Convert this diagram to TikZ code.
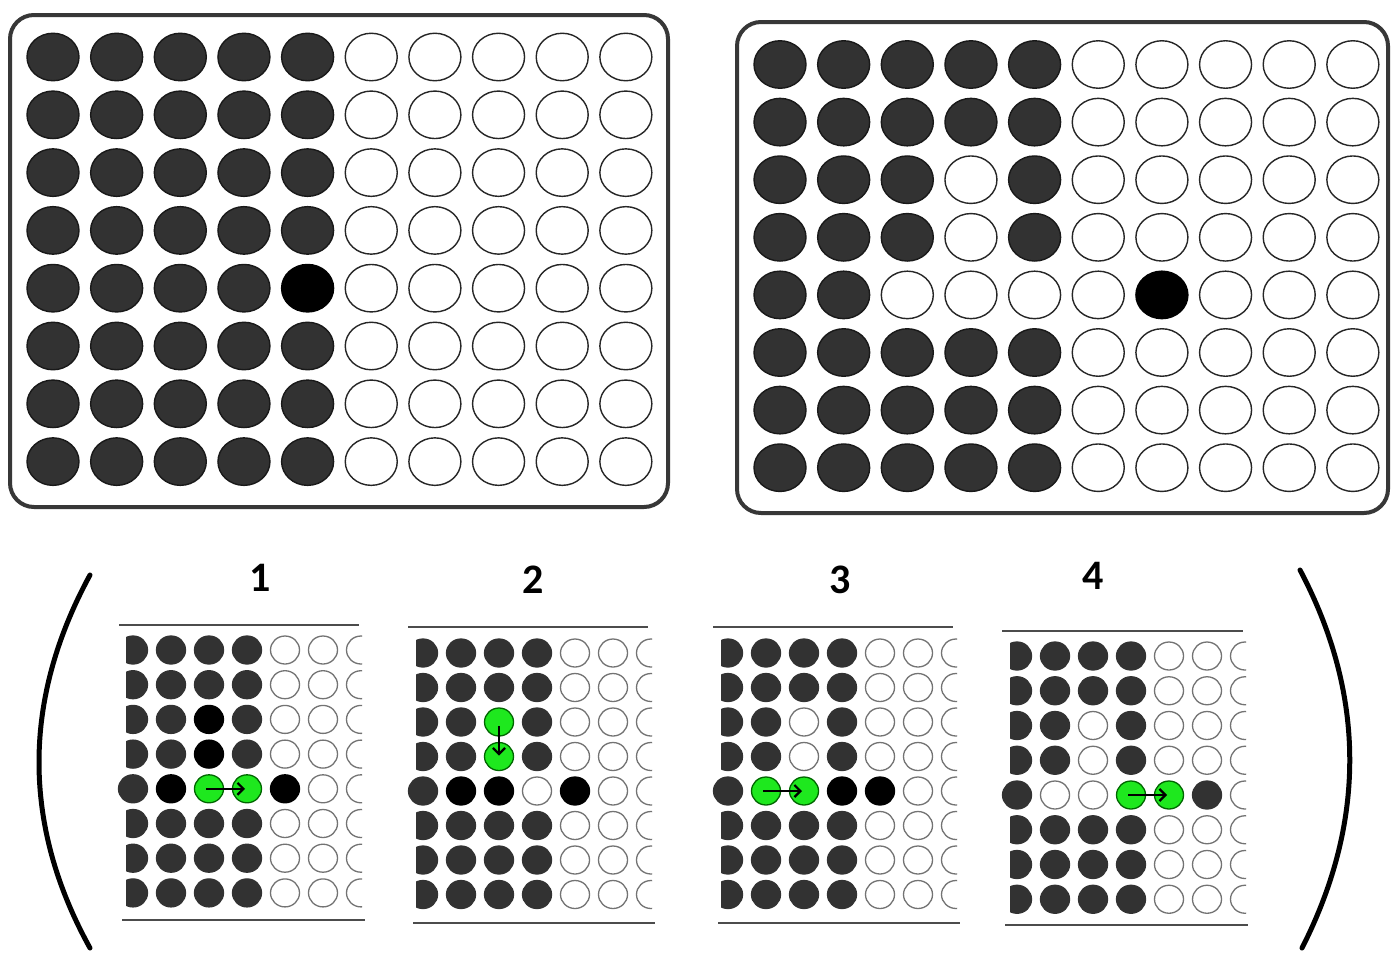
\documentclass[tikz,border=0pt]{standalone}
\usepackage{fontspec}
\setmainfont{Carlito}
\usetikzlibrary{shapes.geometric,arrows.meta}
\definecolor{welldark}{RGB}{50,50,50}
\definecolor{wellgreen}{RGB}{30,232,30}
\definecolor{framegray}{RGB}{55,55,55}
\tikzset{
 bigwell/.style={ellipse,inner sep=0pt,minimum width=52pt,minimum height=47.5pt,line width=1.4pt},
 smallwell/.style={ellipse,inner sep=0pt,minimum width=29pt,minimum height=28pt,line width=1.3pt},
 wD/.style={fill=welldark,draw=black!90},
 wW/.style={fill=white,draw=black!85},
 wB/.style={fill=black,draw=black},
 sD/.style={fill=welldark,draw=welldark},
 sW/.style={fill=white,draw=black!55},
 sB/.style={fill=black,draw=black},
 sG/.style={fill=wellgreen,draw=black!60!green},
 plate/.style={draw=framegray,line width=4pt,rounded corners=24pt},
 rim/.style={draw=black!70,line width=2.6pt},
 mvarrow/.style={draw=black,line width=2.2pt,-{Straight Barb[length=6pt,width=12pt]}},
 paren/.style={line width=5pt,line cap=round},
 steplabel/.style={font=\fontsize{42}{42}\selectfont\bfseries,inner sep=0pt},
}
\newcommand\drawpanel[5]{%
 \begin{scope}
  \clip ({#2-7},{#3-18}) rectangle ({#2+6*38+1},{#3+7*#4+18})
        ({#2-16},{#3+4*#4-16}) rectangle ({#2+6*38+1},{#3+4*#4+16});
  \foreach \row [count=\r] in {#5} {
    \foreach \t [count=\c] in \row {
      \node[smallwell,s\t] (#1-\r-\c) at ({#2+38*(\c-1)},{#3+#4*(\r-1)}) {};
    }
  }
 \end{scope}
}
\begin{document}
\begin{tikzpicture}[x=1pt,y=-1pt]
\useasboundingbox[fill=white] (0,0) rectangle (1391,956);

% top-left plate
\draw[plate] (10,15) rectangle (668,507);
\foreach \row [count=\r] in {
 {D,D,D,D,D,W,W,W,W,W},{D,D,D,D,D,W,W,W,W,W},{D,D,D,D,D,W,W,W,W,W},{D,D,D,D,D,W,W,W,W,W},
 {D,D,D,D,B,W,W,W,W,W},{D,D,D,D,D,W,W,W,W,W},{D,D,D,D,D,W,W,W,W,W},{D,D,D,D,D,W,W,W,W,W}} {
  \foreach \t [count=\c] in \row {
    \node[bigwell,w\t] (L-\r-\c) at ({53+63.65*(\c-1)},{57+57.8*(\r-1)}) {};
  }
}

% top-right plate
\draw[plate] (737,22) rectangle (1388,513);
\foreach \row [count=\r] in {
 {D,D,D,D,D,W,W,W,W,W},{D,D,D,D,D,W,W,W,W,W},{D,D,D,W,D,W,W,W,W,W},{D,D,D,W,D,W,W,W,W,W},
 {D,D,W,W,W,W,B,W,W,W},{D,D,D,D,D,W,W,W,W,W},{D,D,D,D,D,W,W,W,W,W},{D,D,D,D,D,W,W,W,W,W}} {
  \foreach \t [count=\c] in \row {
    \node[bigwell,w\t] (R-\r-\c) at ({780+63.65*(\c-1)},{64.5+57.6*(\r-1)}) {};
  }
}

% parentheses
\draw[paren] (90,575) .. controls (22,700) and (22,825) .. (90,948);
\draw[paren] (1300,570) .. controls (1366,695) and (1366,822) .. (1302,948);

% step labels
\node[steplabel] (n1) at (260,578) {1};
\node[steplabel] (n2) at (533,580) {2};
\node[steplabel] (n3) at (840,580) {3};
\node[steplabel] (n4) at (1093,576) {4};

% panel 1
\draw[rim] (119,625) -- (359,625);
\draw[rim] (122,920) -- (365,920);
\drawpanel{P1}{133}{650}{34.7}{{D,D,D,D,W,W,W},{D,D,D,D,W,W,W},{D,D,B,D,W,W,W},{D,D,B,D,W,W,W},
 {D,B,G,G,B,W,W},{D,D,D,D,W,W,W},{D,D,D,D,W,W,W},{D,D,D,D,W,W,W}}
\draw[mvarrow] ([xshift=-3pt]P1-5-3.center) -- ([xshift=-2pt]P1-5-4.center);

% panel 2
\draw[rim] (408,627) -- (648,627);
\draw[rim] (413,923) -- (655,923);
\drawpanel{P2}{423}{653}{34.5}{{D,D,D,D,W,W,W},{D,D,D,D,W,W,W},{D,D,G,D,W,W,W},{D,D,G,D,W,W,W},
 {D,B,B,W,B,W,W},{D,D,D,D,W,W,W},{D,D,D,D,W,W,W},{D,D,D,D,W,W,W}}
\draw[mvarrow] ([yshift=-4pt]P2-3-3.center) -- ([yshift=1pt]P2-4-3.center);

% panel 3
\draw[rim] (713,627) -- (953,627);
\draw[rim] (718,923) -- (960,923);
\drawpanel{P3}{728}{653}{34.5}{{D,D,D,D,W,W,W},{D,D,D,D,W,W,W},{D,D,W,D,W,W,W},{D,D,W,D,W,W,W},
 {D,G,G,B,B,W,W},{D,D,D,D,W,W,W},{D,D,D,D,W,W,W},{D,D,D,D,W,W,W}}
\draw[mvarrow] ([xshift=-3pt]P3-5-2.center) -- ([xshift=-2pt]P3-5-3.center);

% panel 4
\draw[rim] (1002,631) -- (1243,631);
\draw[rim] (1005,925) -- (1248,925);
\drawpanel{P4}{1017}{656}{34.75}{{D,D,D,D,W,W,W},{D,D,D,D,W,W,W},{D,D,W,D,W,W,W},{D,D,W,D,W,W,W},
 {D,W,W,G,G,D,W},{D,D,D,D,W,W,W},{D,D,D,D,W,W,W},{D,D,D,D,W,W,W}}
\draw[mvarrow] ([xshift=-3pt]P4-5-4.center) -- ([xshift=-2pt]P4-5-5.center);
\end{tikzpicture}
\end{document}
